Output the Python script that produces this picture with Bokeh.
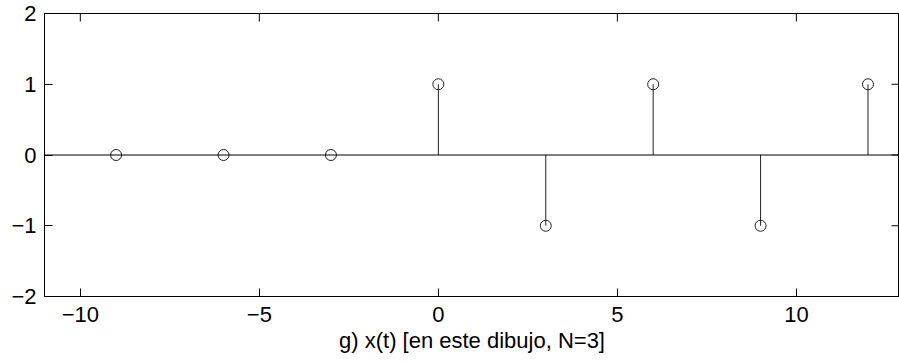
import math
from bokeh.plotting import figure
from bokeh.models import Span, FixedTicker, ColumnDataSource
from bokeh.embed import file_html
from bokeh.resources import INLINE

# Sampled signal x(t) for N=3
n_values = [-9, -6, -3, 0, 3, 6, 9, 12]
x_values = [0, 0, 0, 1, -1, 1, -1, 1]

# Axis ticks and labels
x_ticks = [-10, -5, 0, 5, 10]
x_tick_labels = ["\u221210", "\u22125", "0", "5", "10"]
y_ticks = [-2, -1, 0, 1, 2]
y_tick_labels = ["\u22122", "\u22121", "0", "1", "2"]

x_label = "g) x(t) [en este dibujo, N=3]"

X_MIN, X_MAX = -11, 12.88
Y_MIN, Y_MAX = -2, 2

FONT = "Liberation Sans"
FS = "22px"
TICK_LEN = 8

p = figure(width=899, height=363, x_range=(X_MIN, X_MAX), y_range=(Y_MIN, Y_MAX),
           output_backend="svg", toolbar_location=None,
           min_border_left=44, min_border_right=0, min_border_top=13,
           min_border_bottom=67)
p.xgrid.visible = False
p.ygrid.visible = False
p.outline_line_color = "black"
p.outline_line_width = 1
p.background_fill_color = "white"
p.border_fill_color = "white"


def style_axis(ax):
    ax.major_tick_in = TICK_LEN
    ax.major_tick_out = 0
    ax.minor_tick_in = 0
    ax.minor_tick_out = 0
    ax.axis_line_color = "black"
    ax.major_tick_line_color = "black"
    ax.major_label_text_font = FONT
    ax.major_label_text_font_size = FS
    ax.major_label_text_color = "black"


xax = p.xaxis[0]
xax.ticker = FixedTicker(ticks=x_ticks)
xax.major_label_overrides = dict(zip(x_ticks, x_tick_labels))
style_axis(xax)
xax.major_label_standoff = 10
xax.axis_label = x_label
xax.axis_label_text_font = FONT
xax.axis_label_text_font_size = FS
xax.axis_label_text_font_style = "normal"
xax.axis_label_text_color = "black"
xax.axis_label_standoff = 3

yax = p.yaxis[0]
yax.ticker = FixedTicker(ticks=y_ticks)
yax.major_label_overrides = dict(zip(y_ticks, y_tick_labels))
style_axis(yax)
yax.major_label_standoff = 8

# Inward tick marks on the top and right edges of the box
p.ray(x=x_ticks, y=[Y_MAX] * len(x_ticks), length=TICK_LEN, length_units="screen",
      angle=-math.pi / 2, line_color="black", line_width=1)
p.ray(x=[X_MAX] * len(y_ticks), y=y_ticks, length=TICK_LEN, length_units="screen",
      angle=math.pi, line_color="black", line_width=1)

# Baseline at zero
p.add_layout(Span(location=0, dimension="width", line_color="black", line_width=1))

src = ColumnDataSource(dict(n=n_values, x=x_values, base=[0] * len(n_values)))

# Stems and open circle markers
p.segment(x0="n", y0="base", x1="n", y1="x", source=src, line_color="#222222", line_width=1)
p.scatter(x="n", y="x", source=src, marker="circle", size=11,
          fill_color=None, line_color="#222222", line_width=1)

open("out.html", "w").write(file_html(p, INLINE))
